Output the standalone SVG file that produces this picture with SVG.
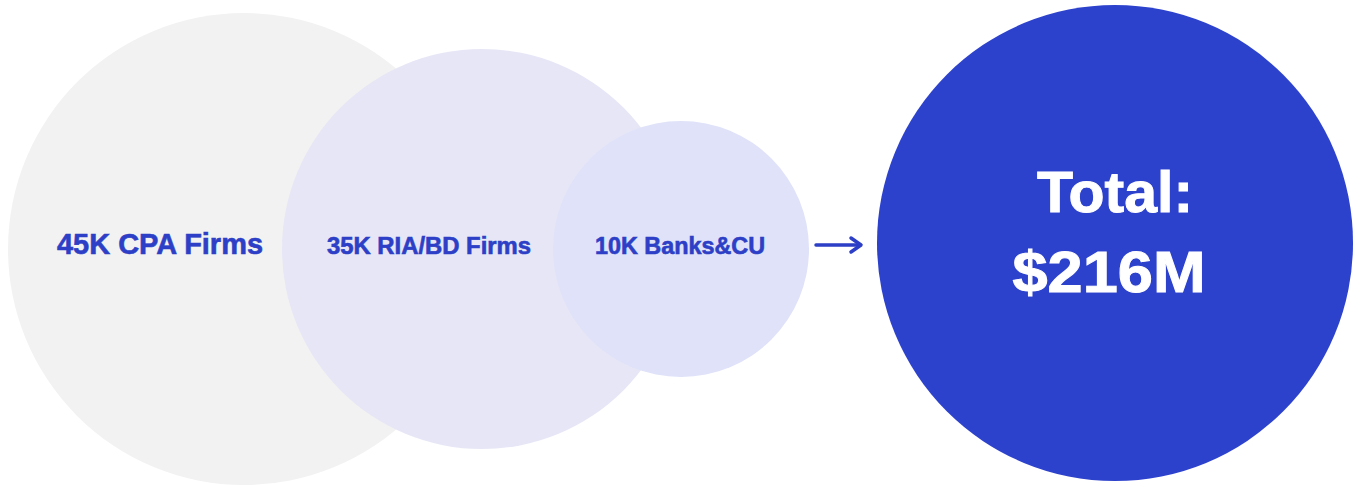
<svg xmlns="http://www.w3.org/2000/svg" width="1360" height="495" viewBox="0 0 1360 495">
  <style>
    .lbl { font-family: "Liberation Sans", Arial, sans-serif; font-weight: bold; fill: #2c3fc6; stroke: #2c3fc6; stroke-width: 0.6; text-anchor: middle; }
    .tot { font-family: "Liberation Sans", Arial, sans-serif; font-weight: bold; fill: #ffffff; stroke: #ffffff; stroke-width: 1; text-anchor: middle; font-size: 57px; }
  </style>
  <rect width="1360" height="495" fill="#ffffff"/>
  <g id="node-cpa">
    <circle cx="244" cy="249" r="236" fill="#f2f2f2"/>
    <text class="lbl" x="160" y="254" font-size="29" textLength="206" lengthAdjust="spacingAndGlyphs">45K CPA Firms</text>
  </g>
  <g id="node-ria">
    <circle cx="482" cy="249" r="200" fill="#e6e6f6"/>
    <text class="lbl" x="429" y="254" font-size="23" textLength="204" lengthAdjust="spacingAndGlyphs">35K RIA/BD Firms</text>
  </g>
  <g id="node-banks">
    <circle cx="681" cy="249" r="128" fill="#dfe2f8"/>
    <text class="lbl" x="680" y="254" font-size="23" textLength="170" lengthAdjust="spacingAndGlyphs">10K Banks&amp;CU</text>
  </g>
  <g id="connectors">
    <path d="M816,245 L860,245" stroke="#2c3fc6" stroke-width="3.5" fill="none" stroke-linecap="round"/>
    <path d="M851,238 L861,245 L851,252" stroke="#2c3fc6" stroke-width="3.5" fill="none" stroke-linecap="round" stroke-linejoin="round"/>
  </g>
  <g id="node-total">
    <circle cx="1115" cy="243" r="238" fill="#2c41cc"/>
    <text class="tot" x="1115" y="212" textLength="156" lengthAdjust="spacingAndGlyphs">Total:</text>
    <text class="tot" x="1109" y="292" textLength="193" lengthAdjust="spacingAndGlyphs">$216M</text>
  </g>
</svg>
